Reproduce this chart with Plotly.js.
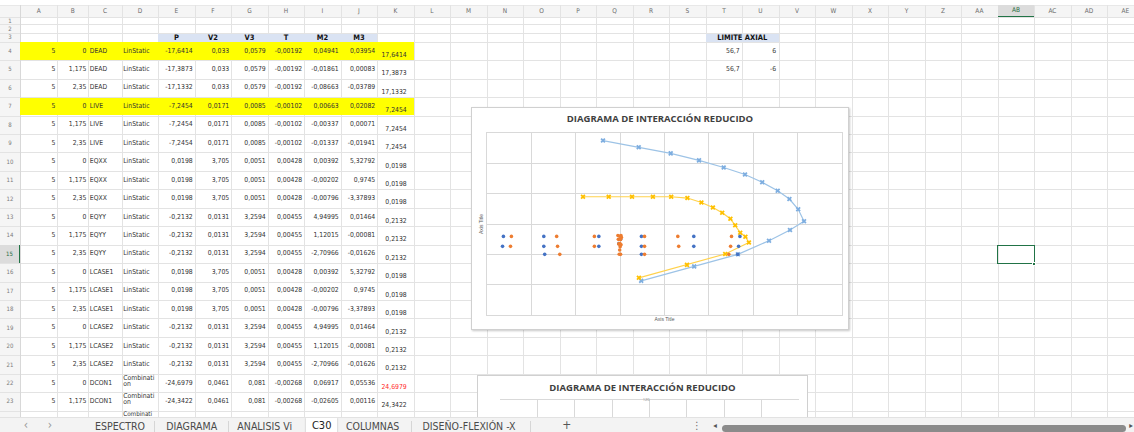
<!DOCTYPE html>
<html><head><meta charset="utf-8">
<script src="https://cdn.plot.ly/plotly-3.0.1.min.js"></script>
<style>
html,body{margin:0;padding:0;}
body{width:1134px;height:432px;overflow:hidden;background:#fff;position:relative;font-family:"Liberation Sans Narrow","DejaVu Sans Condensed","Liberation Sans",sans-serif;}
.a{position:absolute;box-sizing:border-box;}
.cell{position:absolute;box-sizing:border-box;display:flex;white-space:nowrap;font-size:6.8px;color:#333;line-height:1;}
.hl{position:absolute;height:1px;background:#e3e3e3;}
.vl{position:absolute;width:1px;background:#e3e3e3;}
#chart1wrap{position:absolute;left:471px;top:107px;width:376px;height:221px;border:1px solid #d0d0d0;box-shadow:1px 1px 2px rgba(0,0,0,.22);background:#fff;z-index:5;}
#chart2clip{position:absolute;left:476px;top:373.5px;width:334px;height:43.5px;overflow:hidden;z-index:5;}
#chart2wrap{position:absolute;left:1px;top:1px;width:329px;height:240px;border:1px solid #d0d0d0;background:#fff;}
#tabbar{position:absolute;left:0;top:417px;width:1134px;height:15px;background:#f3f3f3;border-top:1px solid #e2e2e2;box-sizing:border-box;z-index:10;overflow:hidden;}
.tab{position:absolute;top:3px;font-size:10.5px;line-height:1;color:#444;white-space:nowrap;transform:translateX(-50%);}
.sep{position:absolute;top:3px;width:1px;height:12px;background:#d6d6d6;}
</style></head><body>
<div id="sheet"></div>
<div id="chart1wrap"><div id="chart1"></div></div>
<div id="chart2clip"><div id="chart2wrap"><div id="chart2"></div></div></div>
<div id="tabbar"></div>
<script>
// ================= DATA =================
const colLetters = ['A','B','C','D','E','F','G','H','I','J','K','L','M','N','O','P','Q','R','S','T','U','V','W','X','Y','Z','AA','AB','AC','AD','AE'];
const headerLabels = ['P','V2','V3','T','M2','M3'];
const frame = [5,5,5,5,5,5,5,5,5,5,5,5,5,5,5,5,5,5,5,5];
const station = [0,1.175,2.35,0,1.175,2.35,0,1.175,2.35,0,1.175,2.35,0,1.175,2.35,0,1.175,2.35,0,1.175];
const outputCase = ['DEAD','DEAD','DEAD','LIVE','LIVE','LIVE','EQXX','EQXX','EQXX','EQYY','EQYY','EQYY','LCASE1','LCASE1','LCASE1','LCASE2','LCASE2','LCASE2','DCON1','DCON1'];
const caseType = ['LinStatic','LinStatic','LinStatic','LinStatic','LinStatic','LinStatic','LinStatic','LinStatic','LinStatic','LinStatic','LinStatic','LinStatic','LinStatic','LinStatic','LinStatic','LinStatic','LinStatic','LinStatic','Combination','Combination'];
const P  = [-17.6414,-17.3873,-17.1332,-7.2454,-7.2454,-7.2454,0.0198,0.0198,0.0198,-0.2132,-0.2132,-0.2132,0.0198,0.0198,0.0198,-0.2132,-0.2132,-0.2132,-24.6979,-24.3422];
const V2 = [0.033,0.033,0.033,0.0171,0.0171,0.0171,3.705,3.705,3.705,0.0131,0.0131,0.0131,3.705,3.705,3.705,0.0131,0.0131,0.0131,0.0461,0.0461];
const V3 = [0.0579,0.0579,0.0579,0.0085,0.0085,0.0085,0.0051,0.0051,0.0051,3.2594,3.2594,3.2594,0.0051,0.0051,0.0051,3.2594,3.2594,3.2594,0.081,0.081];
const T  = [-0.00192,-0.00192,-0.00192,-0.00102,-0.00102,-0.00102,0.00428,0.00428,0.00428,0.00455,0.00455,0.00455,0.00428,0.00428,0.00428,0.00455,0.00455,0.00455,-0.00268,-0.00268];
const M2 = [0.04941,-0.01861,-0.08663,0.00663,-0.00337,-0.01337,0.00392,-0.00202,-0.00796,4.94995,1.12015,-2.70966,0.00392,-0.00202,-0.00796,4.94995,1.12015,-2.70966,0.06917,-0.02605];
const M3 = [0.03954,0.00083,-0.03789,0.02082,0.00071,-0.01941,5.32792,0.9745,-3.37893,0.01464,-0.00081,-0.01626,5.32792,0.9745,-3.37893,0.01464,-0.00081,-0.01626,0.05536,0.00116];
const partialRowType = 'Combination';
const limitTitle = 'LIMITE AXIAL';
const limitP = [56.7, 56.7];
const limitM = [6, -6];

const chartTitle = 'DIAGRAMA DE INTERACCIÓN REDUCIDO';
const axisTitle = 'Axis Title';
// nominal interaction diagram (light blue)
const nominalM = [-3.86, 4.19, 11.4, 17.78, 23.34, 28.14, 32.02, 35.51, 38.15, 40.13, 41.44, 38.28, 33.55, 26.54, 16.69, 4.75];
const nominalP = [187.5, 176.6, 166.4, 154.9, 143.1, 131.6, 118.7, 104.8, 91.1, 74.3, 54.6, 40.1, 22.5, 0.0, -19.9, -43.7];
// reduced interaction diagram (yellow)
const reducedM = [-8.37, -2.57, 2.68, 7.39, 11.51, 15.16, 18.32, 20.91, 23.0, 24.85, 25.93, 27.06, 28.23, 29.02, 23.68, 15.07, 4.23];
const reducedP = [94.9, 94.9, 94.9, 94.9, 94.9, 92.8, 85.4, 77.1, 68.6, 58.7, 48.0, 35.7, 29.1, 19.6, 0.5, -17.4, -38.7];
// demand points (blue)
const demandBlueM = [-26.3, -26.5, -17.2, -17.2, -17.0, -4.8, -4.8, 4.8, 4.8, 4.8, 16.6, 16.6, 27.0, 26.7, 26.5, -0.3, 0.1];
const demandBlueP = [29.6, 13.2, 29.6, 13.2, 0.0, 29.6, 13.2, 29.6, 13.2, 0.0, 29.6, 13.2, 29.6, 13.2, 0.0, 17.6, 24.7];
// demand points (orange)
const demandOrangeM = [-24.5, -24.7, -14.3, -14.1, -13.6, -5.8, -5.8, 5.5, 5.5, 5.5, 13.0, 13.2, 25.1, 24.9, 24.5,
                       -0.5, 0.2, -0.1, 0.3, -0.4, 0.1, -0.2, 0.0, -0.3, 0.2, 0.0, -0.1, -0.2, 0.1];
const demandOrangeP = [29.6, 13.2, 29.6, 13.2, 0.0, 29.6, 13.2, 29.6, 13.2, 0.0, 29.6, 13.2, 29.6, 13.2, 0.0,
                       31.1, 30.8, 29.9, 27.8, 24.7, 24.3, 17.6, 17.4, 17.1, 15.9, 12.7, 7.25, 0.2, 0.0];
const chart2TopTick = [120];
const sheetTabs = ['ESPECTRO','DIAGRAMA','ANALISIS Vi','C30','COLUMNAS','DISEÑO-FLEXIÓN -X'];
const activeTab = 'C30';

// ================= SHEET LAYOUT =================
const sheet = document.getElementById('sheet');
function el(cls, css, text, parent){ const d=document.createElement('div'); d.className=cls; Object.assign(d.style, css); if(text!==undefined) d.textContent=text; (parent||sheet).appendChild(d); return d; }
const fmt = v => String(v).replace('.', ',');
const colW = [37.3, 31, 33.4]; while (colW.length < colLetters.length) colW.push(36.5);
const colX = [20]; colW.forEach(w => colX.push(colX[colX.length-1] + w));
const rowTop = {1:17, 2:24, 3:33}; for (let r=4; r<=26; r++) rowTop[r] = 41.7 + 18.45*(r-4);
const rowH = r => rowTop[r+1] - rowTop[r];
const ci = L => colLetters.indexOf(L);

// header bands
el('a', {left:'0px', top:'5px', width:'1134px', height:'12px', background:'#f5f5f5'});
el('a', {left:'0px', top:'17px', width:'20px', height:'420px', background:'#f5f5f5'});
// grid lines
for (let r=1; r<=26; r++) el('hl', {left:'0px', top:rowTop[r]+'px', width:'1134px'});
el('hl', {left:'0px', top:'5px', width:'1134px', background:'#e8e8e8'});
for (let c=0; c<colX.length; c++) el('vl', {left:colX[c]+'px', top:'5px', height:'430px'});
el('vl', {left:'20px', top:'5px', height:'430px', background:'#d8d8d8'});
// column letters
colLetters.forEach((L,i) => {
  const active = (L==='AB');
  el('cell', {left:colX[i]+'px', top:'5px', width:colW[i]+'px', height:'12px', justifyContent:'center', alignItems:'center', fontSize:'6.5px', color: active?'#1e6b41':'#6b6b6b', background: active?'#dcdcdc':'transparent', borderBottom: active?'1.5px solid #217346':'none'}, L);
});
// row numbers
for (let r=1; r<=23; r++) {
  const active = (r===15);
  el('cell', {left:'0px', top:rowTop[r]+'px', width:'20px', height:rowH(r)+'px', justifyContent:'center', alignItems:'center', fontSize:'6px', color: active?'#1e6b41':'#7a7a7a', background: active?'#dcdcdc':'transparent', borderRight: active?'1.5px solid #217346':'none'}, String(r));
}
// fills
function fill(r, c1, c2, color){ el('a', {left:colX[c1]+'px', top:(rowTop[r]+0.5)+'px', width:(colX[c2+1]-colX[c1])+'px', height:(rowH(r)-0.5)+'px', background:color}); }
fill(3, ci('E'), ci('J'), '#dae3f3');
fill(3, ci('T'), ci('U'), '#dae3f3');
fill(4, ci('A'), ci('K'), '#ffff00');
fill(7, ci('A'), ci('K'), '#ffff00');
// header text
headerLabels.forEach((h,k) => { const c = ci('E')+k; el('cell', {left:colX[c]+'px', top:rowTop[3]+'px', width:colW[c]+'px', height:rowH(3)+'px', justifyContent:'center', alignItems:'center', fontWeight:'bold', fontSize:'7.5px', color:'#111'}, h); });
el('cell', {left:colX[ci('T')]+'px', top:rowTop[3]+'px', width:(colW[ci('T')]+colW[ci('U')])+'px', height:rowH(3)+'px', justifyContent:'center', alignItems:'center', fontWeight:'bold', fontSize:'7.5px', color:'#111'}, limitTitle);
// cells
function cell(r, c, text, o={}){
  const css = {left:colX[c]+'px', top:rowTop[r]+'px', width:colW[c]+'px', height:rowH(r)+'px',
    justifyContent: o.align==='left'?'flex-start':'flex-end', alignItems: o.valign||'center',
    paddingLeft: o.align==='left'?'1.5px':'0', paddingRight: o.align==='left'?'0':(o.pr||'2px'), paddingBottom: o.pb||'0', paddingTop: o.pt||'0'};
  if (o.color) css.color = o.color;
  if (o.wrap) { css.whiteSpace='normal'; css.flexDirection='column'; css.lineHeight='6px'; css.justifyContent='flex-start'; css.alignItems='flex-start'; }
  const d = el('cell', css);
  if (o.wrap) { d.innerHTML = text.slice(0,9) + '<br>' + text.slice(9); } else d.textContent = text;
}
for (let i=0; i<P.length; i++) {
  const r = 4 + i;
  cell(r, ci('A'), String(frame[i]));
  cell(r, ci('B'), fmt(station[i]));
  cell(r, ci('C'), outputCase[i], {align:'left'});
  if (caseType[i].length > 9) cell(r, ci('D'), caseType[i], {align:'left', wrap:true, pt:'1px'});
  else cell(r, ci('D'), caseType[i], {align:'left'});
  [P, V2, V3, T, M2, M3].forEach((arr,k) => cell(r, ci('E')+k, fmt(arr[i])));
  cell(r, ci('K'), fmt(Math.abs(P[i])), {valign:'flex-end', pb:'1.5px', pr:'7px', color: i===18 ? '#ff2a2a' : undefined});
}
// partially visible row 24 (sits just above the tab bar)
el('cell', {left:colX[ci('D')]+'px', top:(rowTop[24]+0.5)+'px', width:colW[ci('D')]+'px', height:'6px', paddingLeft:'1.5px', alignItems:'center', fontSize:'6.3px'}, partialRowType.slice(0,9));
limitP.forEach((v,k) => { cell(4+k, ci('T'), fmt(v), {pr:'2.5px'}); cell(4+k, ci('U'), fmt(limitM[k]), {pr:'2.5px'}); });
// selected cell AB15
el('a', {left:(colX[ci('AB')]-0.5)+'px', top:(rowTop[15]+0.5)+'px', width:(colW[ci('AB')]+1)+'px', height:(rowH(15)+0.5)+'px', border:'1.5px solid #217346'});
el('a', {left:(colX[ci('AB')+1]-2)+'px', top:(rowTop[16]-1.5)+'px', width:'4px', height:'4px', background:'#217346', border:'0.5px solid #fff'});

// ================= TAB BAR =================
const bar = document.getElementById('tabbar');
function tb(html, css, cls='tab'){ const d=document.createElement('div'); d.className=cls; Object.assign(d.style, css); d.innerHTML=html; bar.appendChild(d); return d; }
tb('&lsaquo;', {left:'26px', color:'#9a9a9a', fontSize:'12px', top:'0.5px'});
tb('&rsaquo;', {left:'50px', color:'#9a9a9a', fontSize:'12px', top:'0.5px'});
const tabCenters = [120, 191.7, 264.7, 321.7, 372.7, 469];
tb('', {left:'306px', top:'0px', width:'31px', height:'16px', background:'#fff', boxShadow:'0 0 2px rgba(0,0,0,.25)', transform:'none'}, 'a');
sheetTabs.forEach((t,i) => {
  const act = t===activeTab;
  tb(t, {left:tabCenters[i]+'px', top: act?'2px':'3px', color: act?'#222':'#4a4a4a', fontSize: act?'11px':'10.5px'});
});
[154, 227.7, 411, 530].forEach(x => tb('', {left:x+'px'}, 'sep'));
tb('+', {left:'566.7px', fontSize:'12px', top:'0.5px', color:'#555'});
tb('&#8942;', {left:'696.7px', fontSize:'10px', top:'2.5px', color:'#666'});
tb('&#9666;', {left:'715px', fontSize:'8px', top:'4px', color:'#555'});
tb('', {left:'721.7px', top:'7px', width:'404px', height:'7px', background:'#8b8b8b', borderRadius:'3.5px', transform:'none'}, 'a');
tb('&#9656;', {left:'1131px', fontSize:'8px', top:'4px', color:'#555'});

// ================= CHART 1 =================
const gridC = '#d9d9d9';
const traces = [
  {x: nominalM, y: nominalP, type:'scatter', mode:'lines+markers', name:'Nominal',
   line:{color:'#9dc3e6', width:1.2}, marker:{symbol:'x', size:4.5, color:'#7eaee0', line:{width:0}}},
  {x: reducedM, y: reducedP, type:'scatter', mode:'lines+markers', name:'Reducido',
   line:{color:'#ffd24d', width:1.2}, marker:{symbol:'x', size:4.5, color:'#ffc000', line:{width:0}}},
  {x: demandBlueM, y: demandBlueP, type:'scatter', mode:'markers', name:'M2',
   marker:{symbol:'circle', size:3.6, color:'#4472c4'}},
  {x: demandOrangeM, y: demandOrangeP, type:'scatter', mode:'markers', name:'M3',
   marker:{symbol:'circle', size:3.6, color:'#ed7d31'}}
];
const layout1 = {
  width:376, height:221, margin:{l:15, r:6, t:25, b:14, pad:0},
  paper_bgcolor:'#fff', plot_bgcolor:'#fff', showlegend:false,
  font:{family:'"Liberation Sans", Arial, sans-serif'},
  title:{text:'<b>'+chartTitle+'</b>', font:{family:'"Open Sans","Liberation Sans",sans-serif', size:9.5, color:'#404040'}, x:0.5, xanchor:'center', xref:'container', y:1-11/221, yanchor:'middle', yref:'container'},
  xaxis:{range:[-30,50], dtick:10, tick0:0, showticklabels:false, ticks:'', gridcolor:gridC, gridwidth:1, zeroline:false, showline:true, mirror:true, linecolor:gridC, linewidth:1, automargin:false,
    title:{text:axisTitle, font:{size:5, color:'#595959'}, standoff:2}},
  yaxis:{range:[-100,200], dtick:50, tick0:0, showticklabels:false, ticks:'', gridcolor:gridC, gridwidth:1, zeroline:false, showline:true, mirror:true, linecolor:gridC, linewidth:1, automargin:false,
    title:{text:axisTitle, font:{size:5, color:'#595959'}, standoff:2}}
};
Plotly.newPlot('chart1', traces, layout1, {staticPlot:true, displayModeBar:false});

// ================= CHART 2 (only its top is visible above the tab bar) =================
const traces2 = [traces[1], traces[2], traces[3]];
const layout2 = {
  width:329, height:240, margin:{l:22, r:8, t:24, b:16, pad:0},
  paper_bgcolor:'#fff', plot_bgcolor:'#fff', showlegend:false,
  title:{text:'<b>'+chartTitle+'</b>', font:{family:'"Open Sans","Liberation Sans",sans-serif', size:9.5, color:'#404040'}, x:0.5, xanchor:'center', xref:'container', y:1-12/240, yanchor:'middle', yref:'container'},
  xaxis:{range:[-40,40], dtick:10, showticklabels:false, ticks:'', gridcolor:gridC, zeroline:false, showline:true, mirror:true, linecolor:gridC, automargin:false},
  yaxis:{range:[-80,120], tickvals:chart2TopTick, anchor:'free', position:0.5, showticklabels:true, tickfont:{size:4, color:'#8a8a8a'}, ticks:'', gridcolor:gridC, zeroline:false, showline:false, automargin:false}
};
Plotly.newPlot('chart2', traces2, layout2, {staticPlot:true, displayModeBar:false});
</script>
</body></html>
